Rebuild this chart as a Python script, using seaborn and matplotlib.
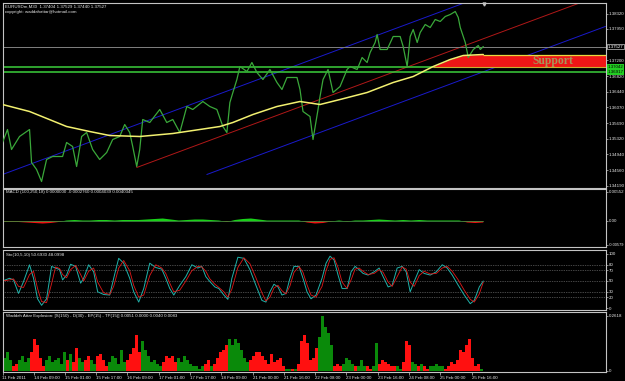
import numpy as np
import pandas as pd
import matplotlib
matplotlib.use("Agg")
import matplotlib.pyplot as plt
import matplotlib.transforms as mtrans
import seaborn as sns

sns.set_theme(style="dark")
plt.rcParams['font.family'] = ['Liberation Sans', 'DejaVu Sans']

# ---------------- data ----------------
header_line1 = "EURUSDm,M30  1.37404 1.37529 1.37440 1.37527"
header_line2 = "copyright: waddahattar@hotmail.com"
macd_title = "MACD (100,250,18) 0.0000000 -0.0002760 0.0004039 0.0040345"
sto_title = "Sto(10,5,10) 50.6930 48.0998"
wae_title = "Waddah Attar Explosion: [S(150) - D(30) - EP(15) - TP(15)] 0.0051 0.0000 0.0040 0.0083"

time_tick_bar = [0, 31, 62, 93, 124, 156, 187, 218, 250, 281, 312, 343, 375, 406, 437, 469]
time_tick_label = ["11 Feb 2011", "14 Feb 09:00", "15 Feb 01:00", "15 Feb 17:00", "16 Feb 09:00",
                   "17 Feb 01:00", "17 Feb 17:00", "18 Feb 09:00", "21 Feb 00:00", "21 Feb 16:00",
                   "22 Feb 08:00", "23 Feb 00:00", "23 Feb 16:00", "24 Feb 08:00", "25 Feb 00:00",
                   "25 Feb 16:00"]

# 1.37570 sits under the bid label in the reference, so it is not printed
price_ticks = [1.38320, 1.37950, 1.37200, 1.36820, 1.36440, 1.36070,
               1.35690, 1.35320, 1.34940, 1.34560, 1.34190]

price_bar = [0, 5, 9, 17, 27, 29, 34, 39, 44, 50, 60, 64, 70, 74, 79, 84, 90, 97, 104, 110,
             117, 122, 127, 130, 134, 137, 140, 147, 157, 164, 170, 177, 184, 190, 200, 207,
             214, 220, 224, 227, 230, 234, 237, 244, 249, 254, 260, 267, 274, 279, 284, 294,
             297, 300, 307, 310, 315, 317, 320, 325, 330, 337, 344, 347, 354, 359, 364, 367,
             372, 374, 377, 384, 390, 397, 400, 404, 407, 410, 414, 417, 422, 427, 432, 437,
             442, 447, 452, 455, 457, 462, 465, 470, 475, 477, 480]
price_close = [1.35224, 1.35536, 1.35056, 1.35368, 1.35536, 1.34744, 1.34576, 1.34288, 1.34816,
               1.34888, 1.34888, 1.35224, 1.35128, 1.34648, 1.35368, 1.35464, 1.35056, 1.34816,
               1.34984, 1.35296, 1.35368, 1.35656, 1.35464, 1.35128, 1.34648, 1.35056, 1.35776,
               1.35704, 1.36016, 1.35704, 1.35776, 1.35464, 1.36088, 1.36016, 1.36208, 1.36088,
               1.36016, 1.35608, 1.35464, 1.36184, 1.36424, 1.36736, 1.37048, 1.36928, 1.37144,
               1.36904, 1.36736, 1.36976, 1.36664, 1.36496, 1.36784, 1.36784, 1.36496, 1.35968,
               1.35848, 1.35296, 1.36016, 1.36328, 1.36736, 1.36976, 1.36424, 1.36568, 1.36976,
               1.37048, 1.36976, 1.37264, 1.37144, 1.37384, 1.37624, 1.37816, 1.37456, 1.37456,
               1.37768, 1.37768, 1.37528, 1.37048, 1.37768, 1.37936, 1.37624, 1.37864, 1.38056,
               1.37984, 1.38176, 1.38128, 1.38248, 1.38296, 1.38368, 1.38224, 1.37984, 1.37624,
               1.37264, 1.37456, 1.37552, 1.37456, 1.37527]

ma_bar = [0, 27, 64, 87, 107, 137, 170, 197, 217, 230, 250, 274, 297, 317, 337, 364, 390,
          410, 430, 447, 460, 480]
ma_value = [1.36136, 1.35968, 1.35608, 1.35488, 1.35392, 1.35368, 1.35440, 1.35536, 1.35608,
            1.35704, 1.35896, 1.36088, 1.36208, 1.36136, 1.36256, 1.36424, 1.36664, 1.36808,
            1.37048, 1.37216, 1.37312, 1.37336]

channel_start_bar = [0, 134, 204]
channel_start_price = [1.34456, 1.34624, 1.34456]
channel_slope = 0.0000893
channel_color = ['#1a1acc', '#b01818', '#1a1acc']

bid_price = 1.37527
green_levels = [1.37042, 1.36917]
support_top = 1.37336
support_bottom = 1.37042
support_from_bar = 430

macd_bar = list(range(0, 481, 8))
macd_value = [-2, -2, -2, -3, -4, -5, -4, -2, 1, 2, 1, 1, 2, 2, 1, 2, 2, 2, 3, 4,
              5, 3, 1, 2, 3, 3, 2, 1, -2, 2, 4, 5, 3, 1, 1, 1, 1, 1, -3, -5,
              -4, -1, 1, -1, 1, 1, 2, 3, 2, 1, 2, 1, 2, 1, 1, 1, 1, 1, -3, -4, -3]  # x 1e-4

sto_bar = [0, 7, 11, 16, 21, 27, 31, 35, 39, 44, 49, 53, 57, 60, 64, 68, 73, 78, 81, 86,
           91, 95, 101, 107, 111, 116, 121, 127, 131, 136, 141, 147, 153, 159, 163, 167,
           171, 177, 183, 189, 195, 199, 203, 207, 212, 216, 221, 225, 229, 235, 241, 247,
           253, 259, 263, 267, 271, 275, 279, 283, 287, 291, 296, 300, 304, 308, 313, 319,
           323, 327, 331, 335, 339, 344, 348, 352, 356, 360, 365, 371, 376, 380, 385, 389,
           394, 399, 403, 407, 411, 416, 421, 427, 433, 439, 444, 449, 455, 461, 467, 471,
           476, 480]
sto_main = [50, 55, 52, 27, 49, 80, 55, 17, 5, 17, 77, 74, 71, 52, 61, 81, 77, 46, 55, 80,
            67, 30, 25, 24, 55, 92, 83, 55, 30, 11, 36, 83, 75, 72, 55, 36, 24, 42, 58, 80,
            74, 77, 58, 49, 39, 36, 24, 16, 55, 94, 92, 71, 42, 14, 11, 30, 44, 39, 24, 27,
            55, 77, 77, 55, 30, 17, 24, 55, 83, 96, 89, 61, 36, 36, 67, 77, 71, 64, 61, 67,
            74, 58, 39, 42, 74, 77, 67, 30, 49, 71, 64, 61, 67, 80, 74, 61, 42, 24, 8, 14,
            39, 50]
sto_signal = [50, 52, 54, 40, 38, 62, 68, 36, 12, 10, 45, 76, 73, 62, 56, 71, 79, 62, 50, 68,
              74, 48, 28, 25, 40, 74, 88, 69, 42, 20, 24, 60, 80, 74, 64, 46, 30, 33, 50, 69,
              77, 76, 68, 54, 44, 38, 30, 20, 35, 75, 93, 82, 56, 28, 13, 20, 37, 42, 32, 26,
              41, 66, 77, 66, 43, 24, 20, 40, 69, 90, 93, 75, 48, 36, 52, 72, 74, 68, 62, 64,
              71, 66, 48, 40, 58, 76, 72, 48, 40, 60, 68, 63, 64, 74, 77, 68, 52, 33, 16, 11,
              26, 48]
sto_levels = [20, 30, 50, 70, 80]
sto_ticks = [0, 20, 30, 50, 70, 80, 100]

# Waddah Attar Explosion: + = green (up), - = red (down), one value per 3 bars
wae_value = [0.06, 0.09, 0.05, -0.02, -0.03, 0.05, 0.07, 0.04, 0.06, -0.09,
             -0.15, -0.12, -0.06, -0.02, 0.05, 0.07, 0.04, 0.05, 0.06, 0.03,
             0.09, -0.05, 0.08, -0.04, -0.11, 0.06, 0.04, -0.05, -0.07, 0.05,
             0.03, -0.07, -0.08, -0.05, -0.02, 0.04, 0.07, 0.06, 0.03, 0.10,
             0.04, -0.05, -0.08, -0.11, -0.17, -0.09, 0.14, 0.10, 0.07, 0.04,
             0.05, 0.03, 0.02, -0.04, -0.07, -0.06, -0.07, -0.04, 0.06, 0.04,
             0.07, 0.05, 0.03, 0.02, 0.02, 0.01, 0.02, -0.03, -0.05, 0.02,
             -0.03, -0.06, -0.09, -0.10, -0.12, 0.15, 0.12, 0.15, 0.13, 0.10,
             0.06, 0.04, -0.05, -0.07, -0.09, -0.09, -0.07, -0.05, -0.03, -0.08,
             -0.04, -0.05, -0.06, -0.02, 0.01, 0.01, -0.01, 0.01, -0.03, -0.14,
             -0.17, -0.13, -0.05, -0.06, -0.11, 0.16, 0.26, 0.21, 0.18, 0.12,
             -0.02, -0.03, -0.02, 0.03, 0.06, 0.05, 0.03, -0.02, 0.02, 0.05,
             0.02, -0.02, -0.01, 0.02, 0.13, -0.03, -0.05, -0.04, -0.03, -0.02,
             -0.02, 0.02, 0.01, -0.04, -0.14, -0.12, 0.04, 0.03, -0.02, 0.03,
             -0.02, -0.01, 0.02, 0.02, 0.03, 0.02, 0.02, -0.01, -0.02, -0.04,
             -0.03, -0.05, -0.10, -0.09, -0.12, -0.15, -0.06, -0.02, -0.03, 0.01]
wae_step = 3
wae_max_label = 0.2618

# ---------------- figure / layout ----------------
W, H = 625, 381
fig = plt.figure(figsize=(W / 100, H / 100), dpi=100, facecolor='black')
FRAME = '#c4c4c4'
TXT = '#e8e8e8'
FS = 3.2
XMAX = 602


def add_panel(top, bottom, left=2.5, right=605.5):
    ax = fig.add_axes([left / W, 1 - bottom / H, (right - left) / W, (bottom - top) / H])
    ax.set_facecolor('black')
    ax.grid(False)
    for s in ax.spines.values():
        s.set_color(FRAME)
        s.set_linewidth(0.8)
    ax.set_xlim(0, XMAX)
    ax.set_xticks([])
    ax.yaxis.tick_right()
    ax.tick_params(axis='y', colors=FRAME, labelcolor=TXT, labelsize=FS, length=1.5,
                   width=0.5, pad=0.8, direction='out')
    return ax


ax_main = add_panel(2.5, 187.5)
ax_macd = add_panel(189.5, 247.5)
ax_sto = add_panel(250, 310)
ax_wae = add_panel(312, 371.5)

# ---------------- main price panel ----------------
ax = ax_main
ax.set_ylim(1.34144, 1.38584)
ax.set_yticks(price_ticks)
ax.set_yticklabels([f"{v:.5f}" for v in price_ticks])

for b0, p0, col in zip(channel_start_bar, channel_start_price, channel_color):
    xs = [b0, XMAX]
    ys = [p0, p0 + channel_slope * (XMAX - b0)]
    sns.lineplot(x=xs, y=ys, ax=ax, color=col, linewidth=0.7, estimator=None, sort=False)

ax.axhline(bid_price, color='#808080', lw=0.7, zorder=2)
for lv in green_levels:
    ax.axhline(lv, color='#3ccf3c', lw=1.1, zorder=2)

# support zone: under the MA from where it crosses the zone, then box to the right edge
zb = [b for b in ma_bar if b >= support_from_bar]
zv = [min(v, support_top) for b, v in zip(ma_bar, ma_value) if b >= support_from_bar]
ax.fill_between(zb + [XMAX], zv + [support_top], support_bottom, color='#ee1616', lw=0, zorder=3)
ax.hlines(support_top, zb[-1], XMAX, color='#e8d840', lw=0.9, zorder=4)
ax.hlines(support_bottom, zb[0], XMAX, color='#c8b030', lw=0.8, zorder=4)
ax.text(549, (support_top + support_bottom) / 2, "Support", ha='center', va='center',
        fontfamily='Liberation Serif', fontweight='bold', fontsize=8.4, color='#a89458', zorder=5)

sns.lineplot(x=price_bar, y=price_close, ax=ax, color='#3aa83a', linewidth=0.9,
             estimator=None, sort=False, zorder=5)
sns.lineplot(x=ma_bar, y=ma_value, ax=ax, color='#f2f070', linewidth=1.1,
             estimator=None, sort=False, zorder=6)

ytr = mtrans.blended_transform_factory(ax.transAxes, ax.transData)
ax.text(1 + 2.0 / 603, bid_price, f"{bid_price:.5f}", transform=ytr, ha='left', va='center',
        fontsize=FS, color='white', zorder=10, clip_on=False,
        bbox=dict(boxstyle='square,pad=0.2', fc='black', ec='white', lw=0.4))
for lv in green_levels:
    ax.text(1 + 2.0 / 603, lv, f"{lv:.5f}", transform=ytr, ha='left', va='center',
            fontsize=FS, color='black', zorder=10, clip_on=False,
            bbox=dict(boxstyle='square,pad=0.15', fc='#22cc22', ec='none'))

ax.plot([481], [1.0 - 0.006], transform=mtrans.blended_transform_factory(ax.transData, ax.transAxes),
        marker='v', ms=2.2, color='#c0c0c0', lw=0, clip_on=False)

fig.text(5 / W, 1 - 6.5 / H, header_line1, fontsize=FS, color=TXT, va='center', ha='left')
fig.text(5 / W, 1 - 12.5 / H, header_line2, fontsize=FS, color=TXT, va='center', ha='left')

# ---------------- MACD panel ----------------
ax = ax_macd
ax.set_ylim(-0.0053, 0.0063)
mv = np.array(macd_value) * 1e-4
ax.fill_between(macd_bar, mv, 0, where=mv >= 0, interpolate=True, color='#19d119', lw=0)
ax.fill_between(macd_bar, mv, 0, where=mv <= 0, interpolate=True, color='#ee1111', lw=0)
ax.axhline(0, xmin=0, xmax=480 / XMAX, color='#3c8c3c', lw=0.6)
ax.set_yticks([0.0058, 0.0, -0.0048])
ax.set_yticklabels(["0.00552", "0.00", "-0.00579"])
ax.get_yticklabels()[-1].set_fontsize(2.9)
ax.text(3, 0.0058, macd_title, fontsize=FS, color=TXT, va='center', ha='left')

# ---------------- Stochastic panel ----------------
ax = ax_sto
ax.set_ylim(-3.7, 107.4)
for lv in sto_levels:
    ax.axhline(lv, color='#8a8a8a', lw=0.5, ls=(0, (1, 1.5)))
sns.lineplot(x=sto_bar, y=sto_main, ax=ax, color='#20b2aa', linewidth=0.7,
             estimator=None, sort=False)
sns.lineplot(x=sto_bar, y=sto_signal, ax=ax, color='#e01818', linewidth=0.6,
             estimator=None, sort=False)
ax.set_yticks(sto_ticks)
ax.set_yticklabels([str(v) for v in sto_ticks])
ax.text(3, 98, sto_title, fontsize=FS, color=TXT, va='center', ha='left')

# ---------------- WAE panel ----------------
ax = ax_wae
ax.set_ylim(-0.004, 0.2795)
wv = np.array(wae_value)
wx = np.arange(len(wv)) * wae_step + wae_step / 2
ax.bar(wx[wv > 0], wv[wv > 0], width=wae_step, color='#0a8a0a', lw=0)
ax.bar(wx[wv < 0], -wv[wv < 0], width=wae_step, color='#ff1010', lw=0)
ax.set_yticks([wae_max_label, 0])
ax.set_yticklabels([f"{wae_max_label:.4f}", "0"])
ax.text(3, 0.262, wae_title, fontsize=FS, color=TXT, va='center', ha='left')
ax.set_xticks(time_tick_bar)
ax.set_xticklabels(time_tick_label)
ax.tick_params(axis='x', colors=FRAME, labelcolor=TXT, labelsize=FS, length=2, width=0.5,
               pad=1, direction='out', bottom=True)
for lab in ax.get_xticklabels():
    lab.set_ha('left')

for a in (ax_main, ax_macd, ax_sto, ax_wae):
    a.set_xlabel('')
    a.set_ylabel('')
    if a.get_legend():
        a.get_legend().remove()

fig.savefig('out.png', dpi=100, facecolor='black')
